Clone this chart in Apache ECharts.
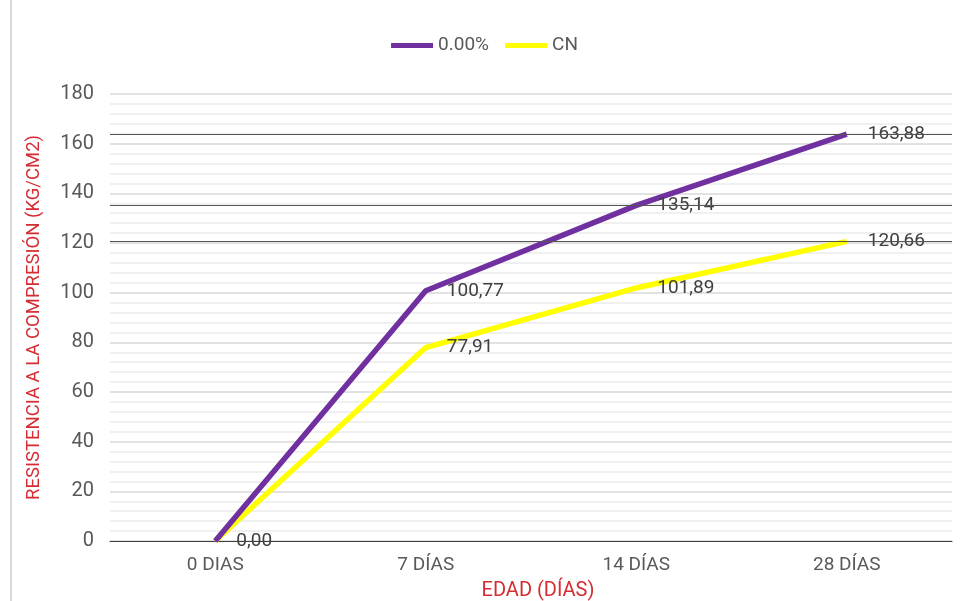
<!DOCTYPE html>
<html><head><meta charset="utf-8">
<script src="https://cdn.jsdelivr.net/npm/echarts@6/dist/echarts.min.js"></script>
<style>
html,body{margin:0;padding:0;background:#fff;}
#c{position:absolute;left:0;top:0;width:969px;height:601px;}
#frame{position:absolute;left:10px;top:0;width:0;height:601px;border-left:2px solid #d9d9d9;}
</style></head>
<body><div id="frame"></div><div id="c"></div>
<script>
const categories = ['0 DIAS', '7 DÍAS', '14 DÍAS', '28 DÍAS'];
const seriesNames = ['0.00%', 'CN'];
const valuesRef = [0.00, 100.77, 135.14, 163.88];
const valuesCN = [0.00, 77.91, 101.89, 120.66];
const refLines = [163.88, 135.14, 120.66];
const yTicks = { min: 0, max: 180, interval: 20 };

const fmt = v => v.toFixed(2).replace('.', ',');
const chart = echarts.init(document.getElementById('c'), null, {renderer: 'canvas'});
const labelStyle = {show: true, position: 'right', distance: 21, fontSize: 19, color: '#404040', fontFamily: 'Roboto', formatter: p => fmt(p.value)};

chart.setOption({
  animation: false,
  textStyle: {fontFamily: 'Roboto'},
  legend: {
    top: 31, left: 'center', itemWidth: 42, itemHeight: 5, itemGap: 16,
    icon: 'rect',
    textStyle: {fontSize: 19, color: '#595959', fontFamily: 'Roboto'},
    data: seriesNames
  },
  grid: {left: 110, right: 17, top: 94, bottom: 60, containLabel: false, outerBoundsMode: 'none'},
  xAxis: {
    type: 'category', data: categories, boundaryGap: true,
    axisLine: {lineStyle: {color: '#404040', width: 1.2}},
    axisTick: {show: false},
    axisLabel: {fontSize: 19, color: '#595959', margin: 15, fontFamily: 'Roboto'},
    name: 'EDAD (DÍAS)', nameLocation: 'middle', nameGap: 40,
    nameTextStyle: {color: '#d42c32', fontSize: 20, fontFamily: 'Roboto', padding: [0, 0, 0, 14]}
  },
  yAxis: {
    type: 'value', min: yTicks.min, max: yTicks.max, interval: yTicks.interval,
    axisLine: {show: false}, axisTick: {show: false},
    axisLabel: {fontSize: 20, color: '#595959', margin: 16, fontFamily: 'Roboto'},
    splitLine: {lineStyle: {color: '#d9d9d9', width: 1.5}},
    minorTick: {show: false, splitNumber: 5},
    minorSplitLine: {show: true, lineStyle: {color: '#ececec', width: 1.5}},
    name: 'RESISTENCIA A LA COMPRESIÓN (KG/CM2)', nameLocation: 'middle', nameGap: 66, nameRotate: 90,
    nameTextStyle: {color: '#d42c32', fontSize: 18.5, fontFamily: 'Roboto'}
  },
  series: [
    {
      name: seriesNames[0], type: 'line', data: valuesRef, showSymbol: true, symbol: 'circle', symbolSize: 0.1,
      lineStyle: {color: '#7030a0', width: 5.5}, itemStyle: {color: '#7030a0'},
      label: labelStyle, z: 3,
      markLine: {
        silent: true, symbol: ['none', 'none'], label: {show: false},
        lineStyle: {color: '#555555', width: 1, type: 'solid'},
        data: refLines.map(v => ({yAxis: v}))
      }
    },
    {
      name: seriesNames[1], type: 'line', showSymbol: true, symbol: 'circle', symbolSize: 0.1,
      data: valuesCN.map((v, i) => i === 0 ? {value: v, label: {show: false}} : v),
      lineStyle: {color: '#ffff00', width: 5.5}, itemStyle: {color: '#ffff00'},
      label: labelStyle, z: 2
    }
  ]
});
</script></body></html>
